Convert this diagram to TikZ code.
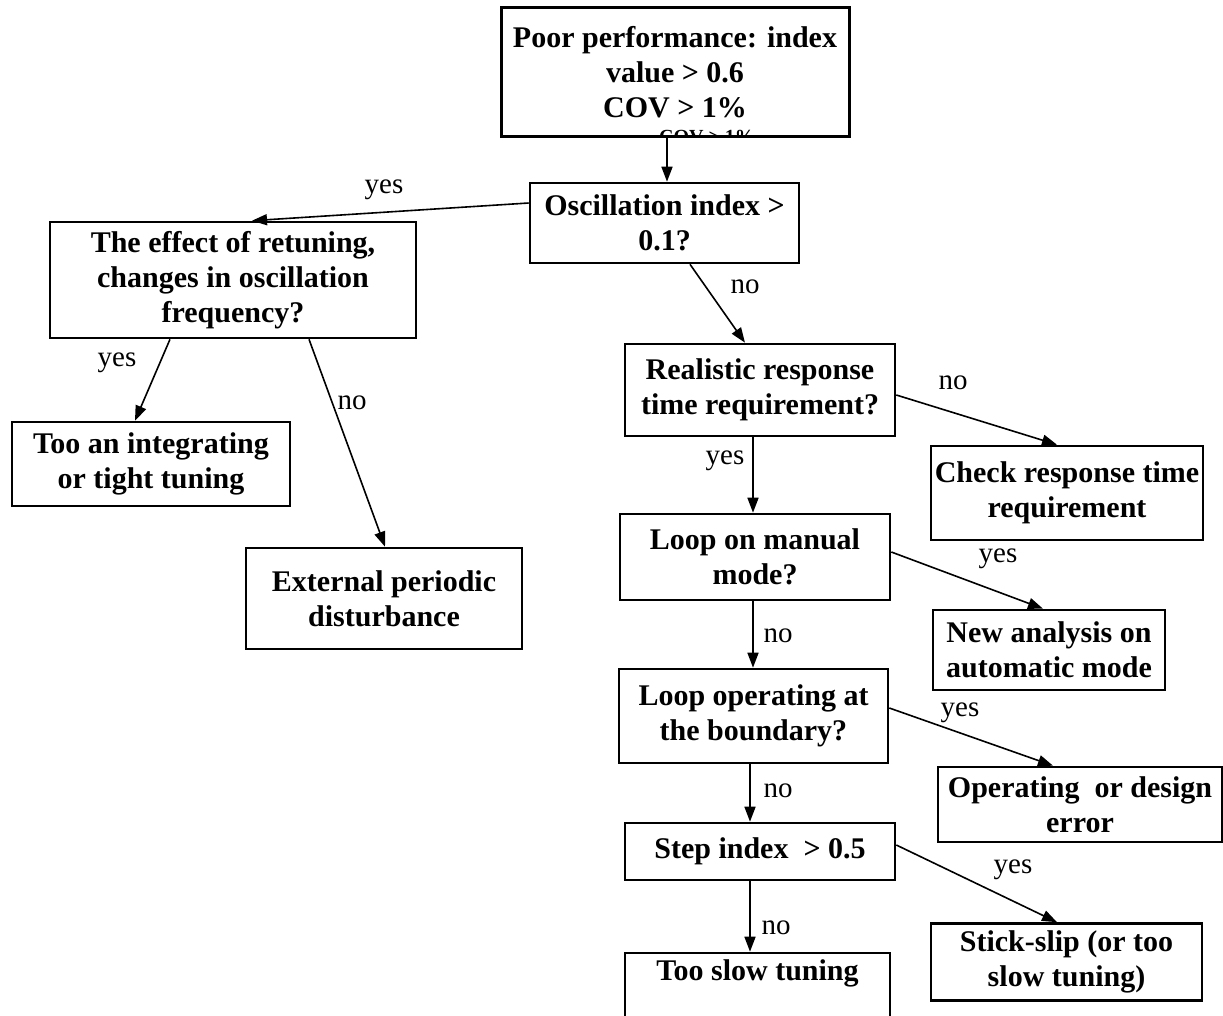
\documentclass[tikz,border=0pt]{standalone}
\usepackage{fontspec}
\setmainfont{Liberation Serif}
\usetikzlibrary{arrows.meta}
\begin{document}
\begin{tikzpicture}[x=1pt,y=-1pt,
  box/.style={draw, line width=2.6pt, align=center, inner sep=0pt,
    font=\fontsize{30}{35}\selectfont\bfseries},
  arr/.style={line width=1.6pt, -{Triangle[length=15pt,width=11pt]}},
  lbl/.style={inner sep=0pt, font=\fontsize{29}{34}\selectfont}]
\useasboundingbox (0,0) rectangle (1223,1016);

% top box with a leftover line of text showing through its lower edge
\begin{scope}
  \clip (501,8) rectangle (849,136);
  \node[inner sep=0pt, anchor=base, font=\fontsize{20}{23}\selectfont\bfseries] (covrest) at (707,143.5) {COV {\textgreater} 1\%};
\end{scope}
\node[box, line width=3pt, minimum width=348pt, minimum height=129pt] (top) at (675,72.5)
  {Poor performance: index\\ value {\textgreater} 0.6\\ COV {\textgreater} 1\%};

\node[box, minimum width=269pt, minimum height=80pt] (osc) at (664.5,223)
  {Oscillation index {\textgreater}\\ 0.1?};
\node[box, minimum width=366pt, minimum height=116pt] (retune) at (233,280)
  {The effect of retuning,\\ changes in oscillation\\ frequency?};
\node[box, minimum width=278pt, minimum height=84pt] (integ) at (151,464)
  {Too an integrating\\ or tight tuning};
\node[box, minimum width=276pt, minimum height=101pt] (ext) at (384,598.5)
  {External periodic\\ disturbance};
\node[box, minimum width=270pt, minimum height=92pt] (real) at (760,390)
  {Realistic response\\ time requirement?};
\node[box, minimum width=272pt, minimum height=94pt] (check) at (1067,493)
  {Check response time\\ requirement};
\node[box, minimum width=270pt, minimum height=86pt] (manual) at (755,557)
  {Loop on manual\\ mode?};
\node[box, minimum width=232pt, minimum height=80pt] (newan) at (1049,650)
  {New analysis on\\ automatic mode};
\node[box, minimum width=269pt, minimum height=94pt] (bound) at (753.5,716)
  {Loop operating at\\ the boundary?};
\node[box, minimum width=284pt, minimum height=75pt] (operr) at (1080,804.5)
  {Operating\ \ or design\\ error};
\node[box, minimum width=270pt, minimum height=57pt] (stepb) at (760,851.5)
  {Step index\ \ {\textgreater} 0.5};
\node[box, minimum width=271pt, minimum height=77pt] (stick) at (1066.5,962)
  {Stick-slip (or too\\ slow tuning)};
\node[box, minimum width=265pt, minimum height=80pt] (slow) at (757.5,993)
  {Too slow tuning\\ \strut};

% connectors
\draw[arr] ([xshift=-8pt]top.south) -- ([xshift=2.5pt]osc.north);
\draw[arr] ([yshift=20pt]osc.west) -- ([xshift=19pt]retune.north);
\draw[arr] ([xshift=25.5pt]osc.south) -- ([xshift=-15pt]real.north);
\draw[arr] ([xshift=-63pt]retune.south) -- ([xshift=-16pt]integ.north);
\draw[arr] ([xshift=76pt]retune.south) -- ([xshift=1pt]ext.north);
\draw[arr] ([yshift=-5pt]real.east) -- ([xshift=-10pt]check.north);
\draw[arr] ([xshift=-7pt]real.south) -- ([xshift=-2pt]manual.north);
\draw[arr] ([yshift=5pt]manual.east) -- ([xshift=-6pt]newan.north);
\draw[arr] ([xshift=-2pt]manual.south) -- ([xshift=-0.5pt]bound.north);
\draw[arr] ([yshift=8pt]bound.east) -- ([xshift=-27pt]operr.north);
\draw[arr] ([xshift=-3.5pt]bound.south) -- ([xshift=-10pt]stepb.north);
\draw[arr] ([yshift=6.5pt]stepb.east) -- ([xshift=-9.5pt]stick.north);
\draw[arr] ([xshift=-10pt]stepb.south) -- ([xshift=-7.5pt]slow.north);

% branch labels
\node[lbl] (l1) at (384,190) {yes};
\node[lbl] (l2) at (745,287) {no};
\node[lbl] (l3) at (117,363) {yes};
\node[lbl] (l4) at (352,403) {no};
\node[lbl] (l5) at (953,383) {no};
\node[lbl] (l6) at (725,461) {yes};
\node[lbl] (l7) at (998,559) {yes};
\node[lbl] (l8) at (778,636) {no};
\node[lbl] (l9) at (960,713) {yes};
\node[lbl] (l10) at (778,791) {no};
\node[lbl] (l11) at (1013,870) {yes};
\node[lbl] (l12) at (776,928) {no};
\end{tikzpicture}
\end{document}
